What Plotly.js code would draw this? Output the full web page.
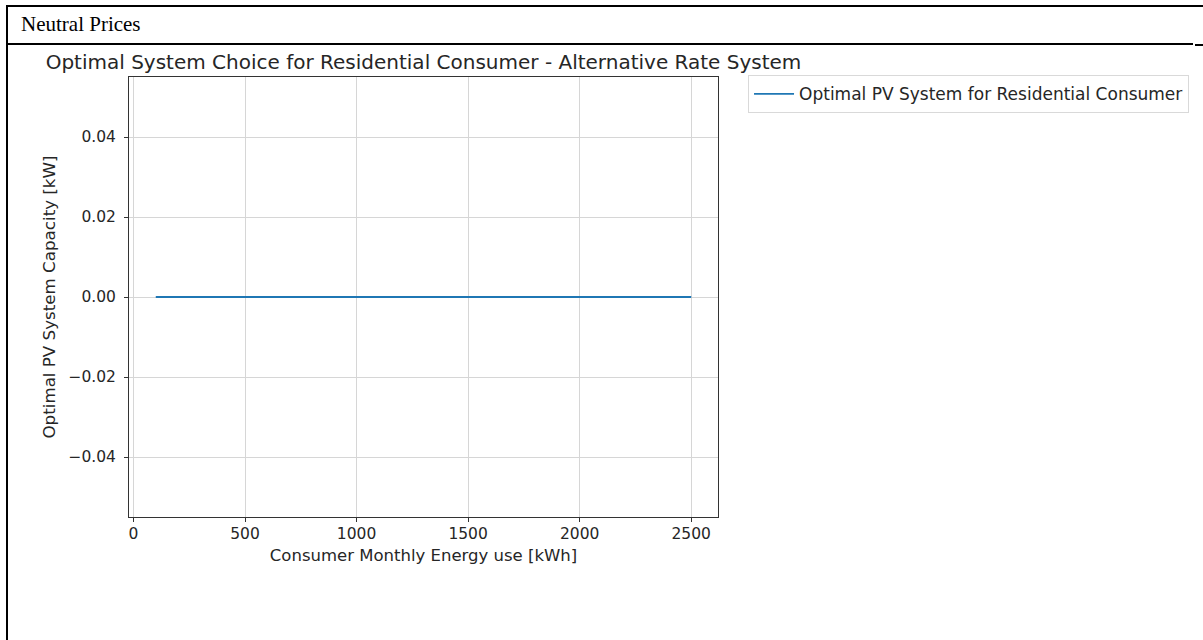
<!DOCTYPE html>
<html>
<head>
<meta charset="utf-8">
<script src="https://cdn.plot.ly/plotly-3.0.1.min.js"></script>
<style>
  html, body { margin: 0; padding: 0; background: #fff; }
  #wrap { position: relative; width: 1203px; height: 640px; overflow: hidden; }
  #chart { position: absolute; left: 0; top: 0; width: 1203px; height: 640px; }
  .bl { position: absolute; background: #000; }
  #hdr { position: absolute; left: 21px; top: 12px; font-family: "Liberation Serif", "Times New Roman", serif; font-size: 21px; color: #000; }
</style>
</head>
<body>
<div id="wrap">
  <div id="chart"></div>
  <div class="bl" style="left:6px; top:5px; width:1197px; height:2px;"></div>
  <div class="bl" style="left:6px; top:5px; width:2px; height:635px;"></div>
  <div class="bl" style="left:6px; top:43px; width:1187px; height:2px;"></div>
  <div class="bl" style="left:1195px; top:44px; width:8px; height:2px;"></div>
  <div id="hdr">Neutral Prices</div>
</div>
<script>
// Data
const energyUse = [100, 200, 300, 400, 500, 600, 700, 800, 900, 1000, 1100, 1200, 1300,
                   1400, 1500, 1600, 1700, 1800, 1900, 2000, 2100, 2200, 2300, 2400, 2500];
const optimalCapacity = [0, 0, 0, 0, 0, 0, 0, 0, 0, 0, 0, 0, 0,
                         0, 0, 0, 0, 0, 0, 0, 0, 0, 0, 0, 0];
const seriesName = "Optimal PV System for Residential Consumer";
const chartTitle = "Optimal System Choice for Residential Consumer - Alternative Rate System";
const xLabel = "Consumer Monthly Energy use [kWh]";
const yLabel = "Optimal PV System Capacity [kW]";
const xTicks = [0, 500, 1000, 1500, 2000, 2500];
const yTicks = [-0.04, -0.02, 0, 0.02, 0.04];

const font = "DejaVu Sans, sans-serif";
const txt = "#262626";

const trace = {
  x: energyUse,
  y: optimalCapacity,
  type: "scatter",
  mode: "lines",
  name: seriesName,
  line: { color: "#1f77b4", width: 1.8 },
  showlegend: true
};

const axisCommon = {
  showline: true, mirror: true, linecolor: "#333", linewidth: 1,
  ticks: "outside", ticklen: 4, tickwidth: 1, tickcolor: "#333",
  showgrid: true, gridcolor: "#d6d6d6", gridwidth: 1,
  zeroline: false,
  tickfont: { family: font, size: 15.5, color: txt }
};

const layout = {
  width: 1203, height: 640,
  paper_bgcolor: "rgba(0,0,0,0)",
  plot_bgcolor: "#fff",
  margin: { l: 129, r: 485, t: 77, b: 123, pad: 0 },
  showlegend: true,
  title: {
    text: chartTitle,
    font: { family: font, size: 20, color: txt },
    x: 0.5, xref: "paper", xanchor: "center",
    y: 1, yref: "paper", yanchor: "bottom", pad: { b: 8 }
  },
  xaxis: Object.assign({}, axisCommon, {
    range: [-20, 2620],
    tickvals: xTicks,
    ticktext: xTicks.map(String),
    ticklabelstandoff: -2,
    title: { text: xLabel, font: { family: font, size: 16.5, color: txt }, standoff: 7 }
  }),
  yaxis: Object.assign({}, axisCommon, {
    range: [-0.055, 0.055],
    tickvals: yTicks,
    tickformat: ".2f",
    ticklabelstandoff: 5,
    title: { text: yLabel, font: { family: font, size: 16.7, color: txt }, standoff: 8 }
  }),
  legend: {
    x: 1.051, xanchor: "left", xref: "paper",
    y: 1.004, yanchor: "top", yref: "paper",
    bgcolor: "#fff", bordercolor: "#d9d9d9", borderwidth: 1,
    font: { family: font, size: 17, color: txt },
    itemwidth: 40
  }
};

Plotly.newPlot("chart", [trace], layout, { staticPlot: true, displayModeBar: false });
</script>
</body>
</html>
